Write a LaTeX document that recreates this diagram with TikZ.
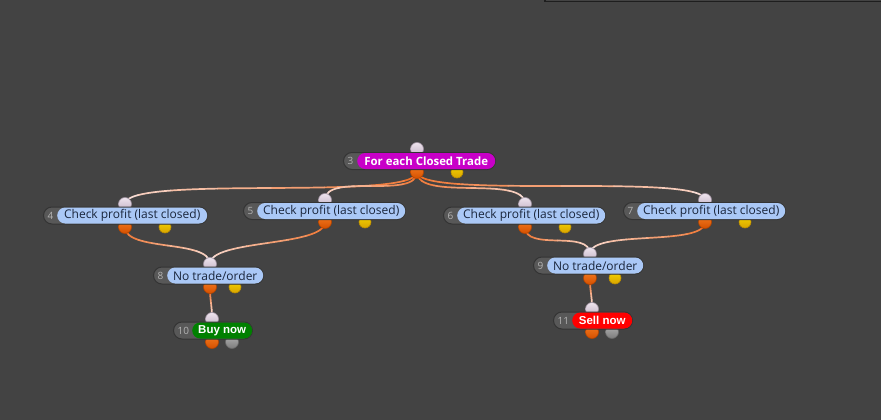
\documentclass[tikz,border=0pt]{standalone}
\usepackage{fontspec}
\setmainfont{Open Sans}
\newfontfamily\arialfont{Liberation Sans}
\usetikzlibrary{calc}
\pgfdeclarelayer{bg}\pgfdeclarelayer{wires}\pgfdeclarelayer{ports}\pgfdeclarelayer{pills}
\pgfsetlayers{bg,wires,ports,pills,main}
\definecolor{bgc}{HTML}{434343}
\definecolor{pillc}{HTML}{585858}
\definecolor{pilledge}{HTML}{343434}
\definecolor{numc}{HTML}{B4B4B4}
\definecolor{labblue}{HTML}{AAC8F6}
\definecolor{labtxt}{HTML}{1A263C}
\definecolor{magc}{HTML}{C800C8}
\definecolor{grnc}{HTML}{008000}
\definecolor{redc}{HTML}{FF0000}
\definecolor{inT}{HTML}{EEE4EE}
\definecolor{inB}{HTML}{C4B4C6}
\definecolor{outT}{HTML}{F47A20}
\definecolor{outB}{HTML}{D45000}
\definecolor{yelT}{HTML}{F4D200}
\definecolor{yelB}{HTML}{D8A400}
\definecolor{gryT}{HTML}{B0B0B0}
\definecolor{gryB}{HTML}{7C7C7C}
\definecolor{wireO}{HTML}{F07028}
\definecolor{wireP}{HTML}{F8DCD4}
\definecolor{edgec}{HTML}{1E1E1E}
\pgfmathdeclarefunction{bl}{7}{%
  \begingroup
  \pgfmathparse{(1-#1)*(1-#2)*(1-#3)*(#4)+((#1)*(1-#2)*(1-#3)+(1-#1)*(#2)*(1-#3)+(1-#1)*(1-#2)*(#3))*(#5)+((#1)*(#2)*(1-#3)+(#1)*(1-#2)*(#3)+(1-#1)*(#2)*(#3))*(#6)+(#1)*(#2)*(#3)*(#7)}%
  \pgfmathsmuggle\pgfmathresult
  \endgroup}
\tikzset{
  port/.style={circle, minimum size=13pt, inner sep=0pt, line width=0.6pt},
  inport/.style={port, top color=inT, bottom color=inB, draw=inB!80!black},
  outport/.style={port, top color=outT, bottom color=outB, draw=outB!85!black},
  yport/.style={port, minimum size=12pt, top color=yelT, bottom color=yelB, draw=yelB!85!black},
  gport/.style={port, top color=gryT, bottom color=gryB, draw=gryB!85!black},
  lab/.style={rectangle, rounded corners=8pt, fill=labblue, text=labtxt, minimum height=16pt, inner xsep=0pt, inner ysep=0pt, font=\fontsize{12}{13}\selectfont},
  labmag/.style={lab, fill=magc, text=white, font=\fontsize{11.4}{12}\selectfont\bfseries},
  labgrn/.style={lab, fill=grnc, text=white, font=\arialfont\fontsize{11.5}{12}\selectfont\bfseries},
  labred/.style={lab, fill=redc, text=white, font=\arialfont\fontsize{11.5}{12}\selectfont\bfseries},
  numpill/.style={rectangle, rounded corners=8.5pt, fill=pillc, draw=pilledge, line width=1pt, minimum height=17pt, inner sep=0pt},
  numtxt/.style={text=numc, font=\fontsize{10}{11}\selectfont, inner sep=0pt, anchor=west},
  wire/.style={line width=1.7pt, line cap=round}
}
\newcommand\block[8]{%
  \node[#7, minimum width={#4-#5}, anchor=west] (L#1) at (#5,-#6) {#8};
  \begin{pgfonlayer}{pills}
    \node[numpill, minimum width={#4-#3}, anchor=west] (P#1) at (#3,-#6) {};
  \end{pgfonlayer}
  \node[numtxt] (N#1) at (#3+4.5,-#6) {#2};
}
\newcommand\ports[6]{%
  \begin{pgfonlayer}{ports}
    \node[inport] (i#1) at (#2,-#3) {};
    \node[outport] (o#1) at (#2,-#4) {};
    \node[#6] (y#1) at (#5,-#4) {};
  \end{pgfonlayer}}
\newcommand\wire[3]{%
  \foreach \k in {0,...,7}{%
    \pgfmathsetmacro\ta{\k/8}%
    \pgfmathsetmacro\tb{(\k+1)/8}%
    \pgfmathtruncatemacro\mix{100-\k*100/7}%
    \begin{pgfonlayer}{wires}
    \draw[wire, draw=wireO!\mix!wireP] let \p1=(#1.center), \p2=(#2.center) in
      ({bl(\ta,\ta,\ta,\x1,\x1,\x2,\x2)},{bl(\ta,\ta,\ta,\y1,\y1-#3,\y2+#3,\y2)})
      .. controls ({bl(\ta,\ta,\tb,\x1,\x1,\x2,\x2)},{bl(\ta,\ta,\tb,\y1,\y1-#3,\y2+#3,\y2)})
      and ({bl(\ta,\tb,\tb,\x1,\x1,\x2,\x2)},{bl(\ta,\tb,\tb,\y1,\y1-#3,\y2+#3,\y2)})
      .. ({bl(\tb,\tb,\tb,\x1,\x1,\x2,\x2)},{bl(\tb,\tb,\tb,\y1,\y1-#3,\y2+#3,\y2)});
    \end{pgfonlayer}
  }}
\begin{document}
\begin{tikzpicture}[x=1pt,y=1pt]
\begin{pgfonlayer}{bg}
  \fill[bgc] (0,0) rectangle (881,-420);
\end{pgfonlayer}
\useasboundingbox (0,0) rectangle (881,-420);
\draw[edgec, line width=1.4pt] (545,0) -- (545,-1.5) -- (881,-1.5);

\ports{3}{417}{149}{172}{457}{yport}
\ports{4}{125}{204}{227}{165}{yport}
\ports{5}{325}{200}{222}{365}{yport}
\ports{6}{525}{204}{227}{565}{yport}
\ports{7}{705}{200}{222}{745}{yport}
\ports{8}{210}{264}{287}{235}{yport}
\ports{9}{590}{254}{278}{615}{yport}
\ports{10}{212}{319}{342}{232}{gport}
\ports{11}{592}{309}{332}{612}{gport}

\block{3}{3}{343}{495}{357}{161}{labmag}{For each Closed Trade}
\block{4}{4}{43}{207}{57}{215.5}{lab}{Check profit (last closed)}
\block{5}{5}{243}{405}{257}{211}{lab}{Check profit (last closed)}
\block{6}{6}{443}{605}{457}{215.5}{lab}{Check profit (last closed)}
\block{7}{7}{623}{785}{637}{211}{lab}{Check profit (last closed)}
\block{8}{8}{153}{263}{167}{275.5}{lab}{No trade/order}
\block{9}{9}{533}{643}{547}{265.5}{lab}{No trade/order}
\block{10}{10}{173}{252}{192}{330.5}{labgrn}{Buy now}
\block{11}{11}{553}{632}{572}{320.5}{labred}{Sell now}

\wire{o3}{i4}{30}
\wire{o3}{i5}{28}
\wire{o3}{i6}{30}
\wire{o3}{i7}{28}
\wire{o4}{i8}{25}
\wire{o5}{i8}{25}
\wire{o6}{i9}{25}
\wire{o7}{i9}{25}
\wire{o8}{i10}{15}
\wire{o9}{i11}{15}
\end{tikzpicture}
\end{document}
